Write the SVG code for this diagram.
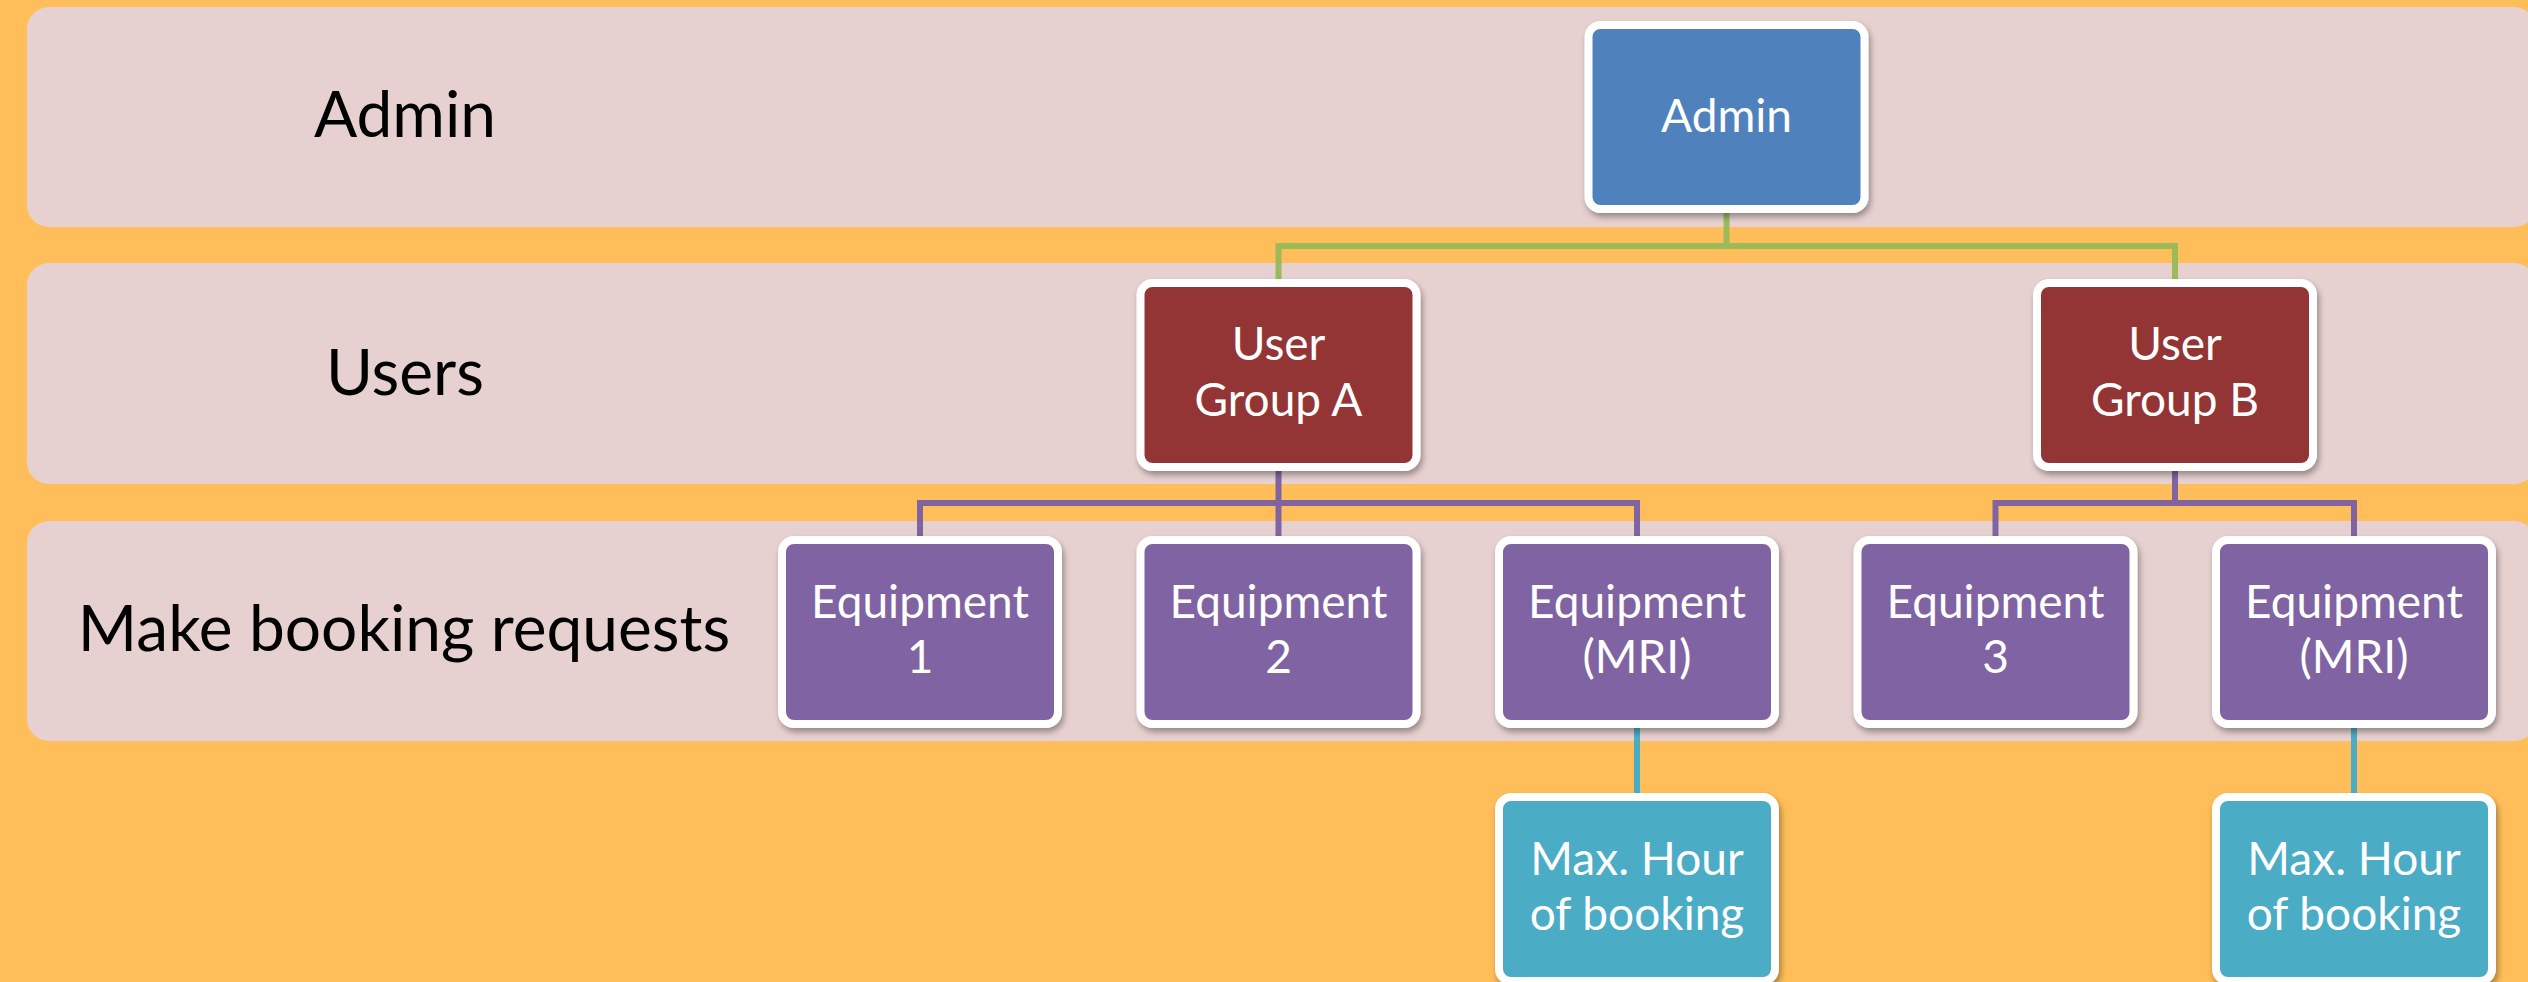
<svg xmlns="http://www.w3.org/2000/svg" width="2528" height="982" viewBox="0 0 2528 982">
  <defs>
    <filter id="shadow" x="-10%" y="-10%" width="120%" height="125%">
      <feDropShadow dx="2" dy="4" stdDeviation="3" flood-color="#000" flood-opacity="0.35"/>
    </filter>
  </defs>
  <style>
    .band { fill: #E7D0D0; }
    .lane { font-family: Lato, "Liberation Sans", sans-serif; font-size: 64px; fill: #000; text-anchor: middle; }
    .box { stroke: #FFFFFF; stroke-width: 8; filter: url(#shadow); }
    .label { font-family: Lato, "Liberation Sans", sans-serif; font-size: 46px; fill: #FFFFFF; text-anchor: middle; }
    .admin { fill: #4F81BD; }
    .user { fill: #943634; }
    .equip { fill: #8064A2; }
    .limit { fill: #4BACC6; }
    .conn { fill: none; stroke-width: 6; }
    .green { stroke: #9BBB59; }
    .purple { stroke: #8064A2; }
    .teal { stroke: #4BACC6; }
  </style>

  <!-- background -->
  <rect x="0" y="0" width="2528" height="982" fill="#FFBE59"/>

  <!-- swim lanes -->
  <g id="lanes">
    <rect class="band" x="27" y="7" width="2509" height="220" rx="22"/>
    <rect class="band" x="27" y="263" width="2509" height="221" rx="22"/>
    <rect class="band" x="27" y="521" width="2509" height="220" rx="22"/>
    <text class="lane" x="405" y="137">Admin</text>
    <text class="lane" x="405" y="395">Users</text>
    <text class="lane" x="404" y="651">Make booking requests</text>
  </g>

  <!-- connectors -->
  <g id="connectors">
    <path class="conn green" d="M1726.5 213 V246 H1278.5 V279 M1726.5 246 H2175 V279"/>
    <path class="conn purple" d="M1278.5 470 V503 H920 V536 M1278.5 503 V536 M1278.5 503 H1637 V536"/>
    <path class="conn purple" d="M2175 470 V503 H1995.5 V536 M2175 503 H2354 V536"/>
    <path class="conn teal" d="M1637 728 V793 M2354 728 V793"/>
  </g>

  <!-- nodes -->
  <g id="node-admin">
    <rect class="box admin" x="1588.5" y="25" width="276" height="184" rx="12"/>
    <text class="label" x="1726.5" y="132">Admin</text>
  </g>
  <g id="node-user-group-a">
    <rect class="box user" x="1140.5" y="283" width="276" height="184" rx="12"/>
    <text class="label" x="1278.5" y="360">User</text>
    <text class="label" x="1278.5" y="416">Group A</text>
  </g>
  <g id="node-user-group-b">
    <rect class="box user" x="2037" y="283" width="276" height="184" rx="12"/>
    <text class="label" x="2175" y="360">User</text>
    <text class="label" x="2175" y="416">Group B</text>
  </g>
  <g id="node-equipment-1">
    <rect class="box equip" x="782" y="540" width="276" height="184" rx="12"/>
    <text class="label" x="920" y="618">Equipment</text>
    <text class="label" x="920" y="673">1</text>
  </g>
  <g id="node-equipment-2">
    <rect class="box equip" x="1140.5" y="540" width="276" height="184" rx="12"/>
    <text class="label" x="1278.5" y="618">Equipment</text>
    <text class="label" x="1278.5" y="673">2</text>
  </g>
  <g id="node-equipment-mri-a">
    <rect class="box equip" x="1499" y="540" width="276" height="184" rx="12"/>
    <text class="label" x="1637" y="618">Equipment</text>
    <text class="label" x="1637" y="673">(MRI)</text>
  </g>
  <g id="node-equipment-3">
    <rect class="box equip" x="1857.5" y="540" width="276" height="184" rx="12"/>
    <text class="label" x="1995.5" y="618">Equipment</text>
    <text class="label" x="1995.5" y="673">3</text>
  </g>
  <g id="node-equipment-mri-b">
    <rect class="box equip" x="2216" y="540" width="276" height="184" rx="12"/>
    <text class="label" x="2354" y="618">Equipment</text>
    <text class="label" x="2354" y="673">(MRI)</text>
  </g>
  <g id="node-max-hour-a">
    <rect class="box limit" x="1499" y="797" width="276" height="184" rx="12"/>
    <text class="label" x="1637" y="875">Max. Hour</text>
    <text class="label" x="1637" y="930">of booking</text>
  </g>
  <g id="node-max-hour-b">
    <rect class="box limit" x="2216" y="797" width="276" height="184" rx="12"/>
    <text class="label" x="2354" y="875">Max. Hour</text>
    <text class="label" x="2354" y="930">of booking</text>
  </g>
</svg>
